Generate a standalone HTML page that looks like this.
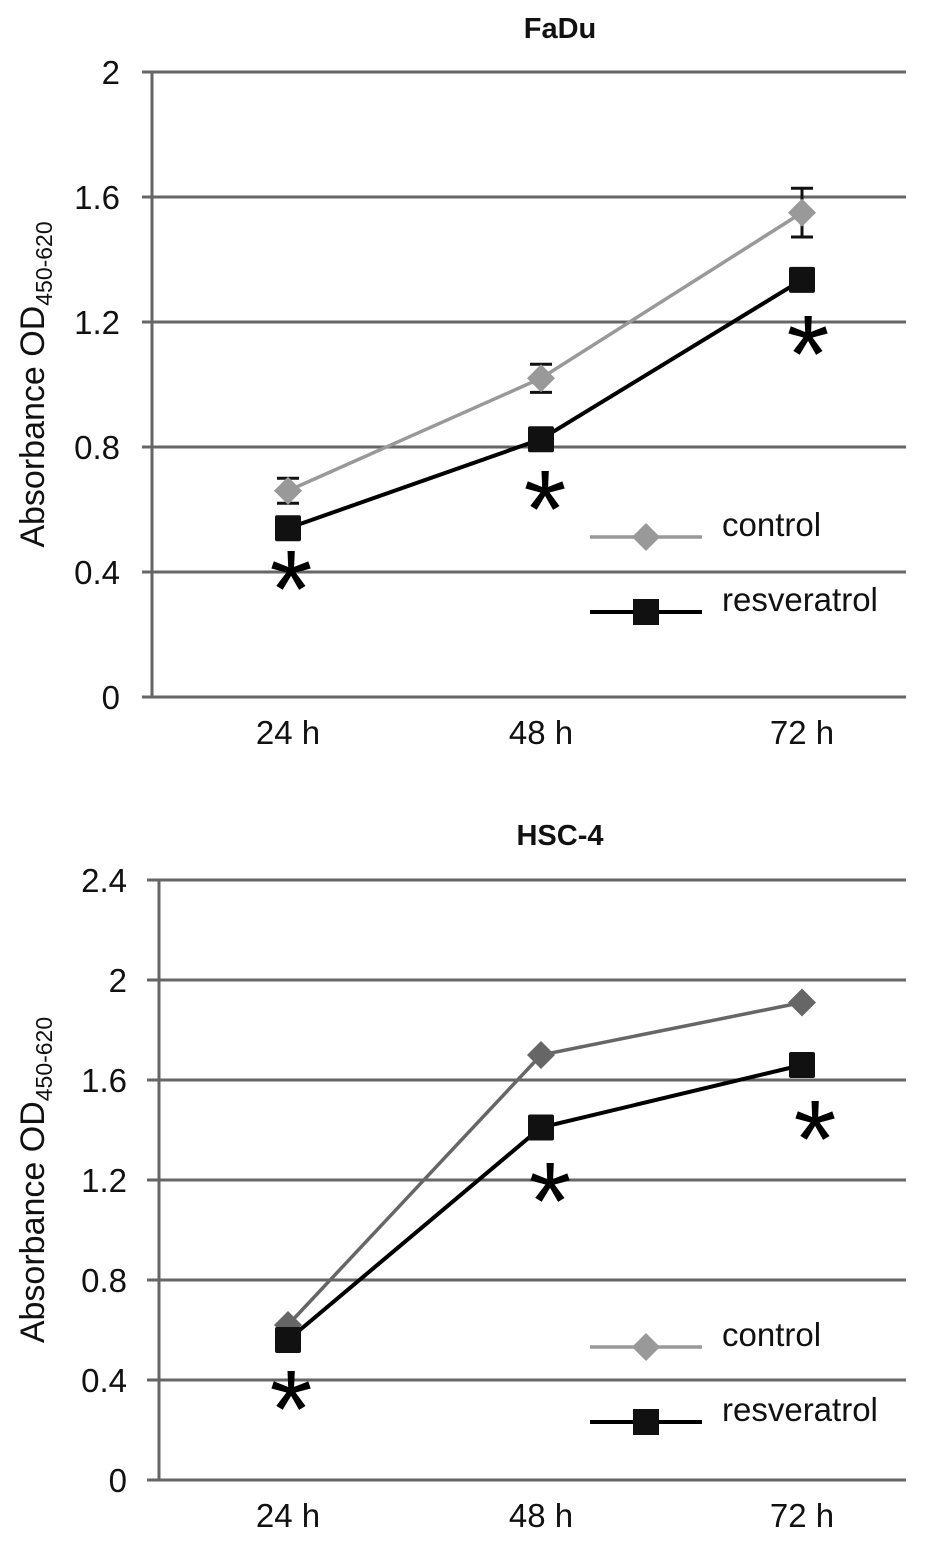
<!DOCTYPE html>
<html><head><meta charset="utf-8"><style>
html,body{margin:0;padding:0;background:#fff;}
svg{display:block;font-family:"Liberation Sans",Arial,sans-serif;}
</style></head><body>
<svg id="c" width="945" height="1541" viewBox="0 0 945 1541"></svg>
<script>
const categories = ["24 h","48 h","72 h"];
const fadu_control = [0.66, 1.02, 1.55];
const fadu_control_err = [0.04, 0.045, 0.078];
const fadu_resv = [0.54, 0.825, 1.335];
const fadu_ticks = [0, 0.4, 0.8, 1.2, 1.6, 2];
const fadu_tickLabels = ["0","0.4","0.8","1.2","1.6","2"];
const hsc_control = [0.62, 1.70, 1.91];
const hsc_resv = [0.56, 1.41, 1.66];
const hsc_ticks = [0, 0.4, 0.8, 1.2, 1.6, 2, 2.4];
const hsc_tickLabels = ["0","0.4","0.8","1.2","1.6","2","2.4"];

const NS="http://www.w3.org/2000/svg";
const svg=document.getElementById('c');
function mk(tag,attrs,parent,text){const e=document.createElementNS(NS,tag);for(const k in attrs)e.setAttribute(k,attrs[k]);if(text!==undefined)e.textContent=text;(parent||svg).appendChild(e);return e;}

function chart(cfg){
  const g=mk('g',{});
  
  
  const y=v=>cfg.y0-(v/cfg.ymax)*(cfg.y0-cfg.ytop);
  const xs=[288,541,802];
  const x=i=>xs[i];
  const t=mk('text',{x:560,y:cfg.titleY,'text-anchor':'middle','font-size':29,'font-weight':'bold',fill:'#111'},g,cfg.title);
  
  
  cfg.ticks.forEach((v,i)=>{
    const l=mk('line',{x1:cfg.gx,x2:906,y1:y(v),y2:y(v),stroke:'#666','stroke-width':3},g);
    
    
    const tl=mk('text',{x:cfg.lx,y:y(v)+12,'text-anchor':'end','font-size':33,fill:'#111'},g,cfg.tickLabels[i]);
    
    
  });
  const ax=mk('line',{x1:cfg.ax,x2:cfg.ax,y1:cfg.ytop,y2:cfg.y0,stroke:'#666','stroke-width':3},g);
  
  
  categories.forEach((c,i)=>{
    const xl=mk('text',{x:x(i),y:cfg.y0+47,'text-anchor':'middle','font-size':33,fill:'#111'},g,c);
    
    
  });
  const cy=(cfg.y0+cfg.ytop)/2;
  const yt=mk('text',{x:0,y:0,'text-anchor':'middle','font-size':34,fill:'#111',transform:`translate(44,${cy}) rotate(-90)`},g);
  
  
  mk('tspan',{},yt,'Absorbance OD');
  mk('tspan',{'font-size':23,dy:8},yt,'450-620');
  if(cfg.err){cfg.control.forEach((v,i)=>{
    const e=cfg.err[i];
    const p=`M${x(i)},${y(v+e)}V${y(v-e)}M${x(i)-11},${y(v+e)}h22M${x(i)-11},${y(v-e)}h22`;
    const eb=mk('path',{d:p,stroke:'#111','stroke-width':3,fill:'none'},g);
    
    
  });}
  const cl=mk('polyline',{points:cfg.control.map((v,i)=>x(i)+','+y(v)).join(' '),stroke:cfg.ccol,'stroke-width':3.5,fill:'none'},g);
  
  
  const rl=mk('polyline',{points:cfg.resv.map((v,i)=>x(i)+','+y(v)).join(' '),stroke:'#000','stroke-width':4,fill:'none'},g);
  
  
  const dia=(cx,cy2)=>`M${cx},${cy2-14}L${cx+14},${cy2}L${cx},${cy2+14}L${cx-14},${cy2}Z`;
  cfg.control.forEach((v,i)=>{
    const m=mk('path',{d:dia(x(i),y(v)),fill:cfg.ccol},g);
    
    
  });
  cfg.resv.forEach((v,i)=>{
    const m=mk('rect',{x:x(i)-13,y:y(v)-13,width:26,height:26,rx:2,fill:'#111'},g);
    
    
  });
  cfg.stars.forEach((s,i)=>{
    const st=mk('text',{x:s[0],y:s[1]+62,'text-anchor':'middle','font-size':110,fill:'#000'},g,'*');
    
    
  });
  const L=cfg.legY;
  const lg=mk('g',{},g);
  
  
  mk('line',{x1:590,x2:702,y1:L,y2:L,stroke:cfg.lcol,'stroke-width':3.5},lg);
  mk('path',{d:dia(646,L),fill:cfg.lcol},lg);
  mk('text',{x:722,y:L-1,'font-size':33,fill:'#111'},lg,'control');
  mk('line',{x1:590,x2:702,y1:L+75,y2:L+75,stroke:'#000','stroke-width':4},lg);
  mk('rect',{x:633,y:L+62,width:26,height:26,fill:'#111'},lg);
  mk('text',{x:722,y:L+74,'font-size':33,fill:'#111'},lg,'resveratrol');
}
chart({name:'fadu-chart',title:'FaDu',titleY:38,y0:697,ytop:72,ymax:2,ticks:fadu_ticks,tickLabels:fadu_tickLabels,
  gx:142,ax:152,lx:120,control:fadu_control,err:fadu_control_err,resv:fadu_resv,ccol:'#999',lcol:'#999',
  stars:[[291,565],[545,485],[808,330]],legY:537});
chart({name:'hsc4-chart',title:'HSC-4',titleY:845,y0:1480,ytop:880,ymax:2.4,ticks:hsc_ticks,tickLabels:hsc_tickLabels,
  gx:147,ax:159,lx:127,control:hsc_control,err:null,resv:hsc_resv,ccol:'#666',lcol:'#999',
  stars:[[291,1385],[550,1177],[815,1115]],legY:1347});
</script>
</body></html>
